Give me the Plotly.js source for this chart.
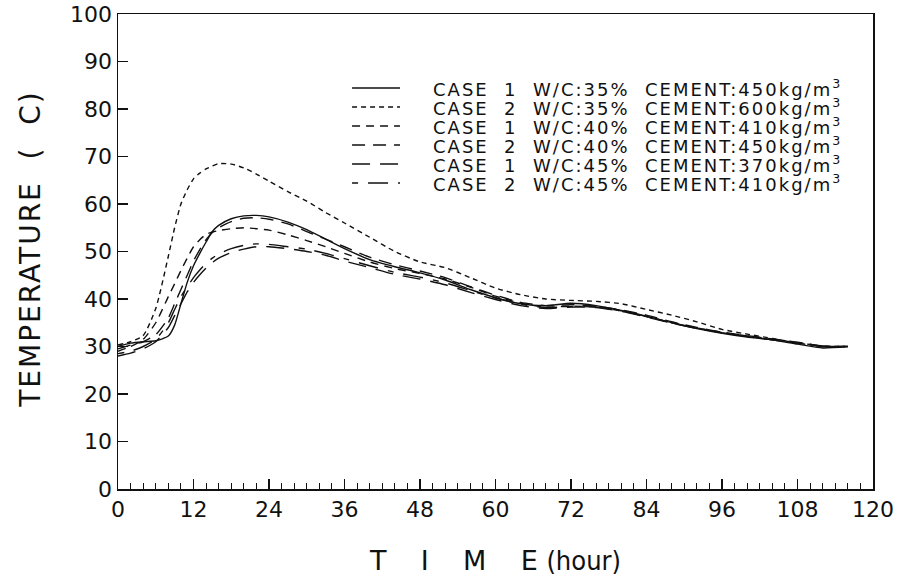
<!DOCTYPE html>
<html>
<head>
<meta charset="utf-8">
<script src="https://cdn.plot.ly/plotly-3.0.1.min.js"></script>
<style>
html,body{margin:0;padding:0;background:#fff;}
#chart{width:901px;height:585px;}
#chart .annotation-text{letter-spacing:2px;}
</style>
</head>
<body>
<div id="chart"></div>
<script>
// Time (hours)
const hours = [0,2,4,6,8,9,10,11,12,13,14,15,16,18,20,22,24,27,30,33,36,40,44,48,52,56,60,64,68,72,76,80,84,88,92,96,100,104,108,112,116];

// CASE 1 W/C:35% CEMENT:450
const c1w35 = [30,30.7,31,31.2,32.2,34.5,39,43.5,47,49.6,52,54.2,55.5,56.9,57.5,57.6,57.3,56.2,54.6,52.6,50.6,48.3,46.8,45.5,44,42,40.3,39,38.6,39.1,38.6,37.6,36.4,35,33.8,32.8,32,31.4,30.5,29.7,30];
// CASE 2 W/C:35% CEMENT:600
const c2w35 = [30.3,31,32.3,38,49,55,60,63,65.3,66.5,67.4,68,68.5,68.4,67.6,66.3,64.8,62.6,60.6,58.2,56,53,50,47.8,46.6,44.5,42.3,40.9,40,39.7,39.5,39,37.8,36.6,35.2,33.6,32.6,31.7,30.8,30.1,30];
// CASE 1 W/C:40% CEMENT:410
const c1w40 = [29,30,31.5,35,40.5,43.2,46,48.6,51,52.5,53.6,54.1,54.4,54.8,55,54.8,54.5,53.5,52.3,51,49.6,47.8,46.4,45.4,44.2,42.5,40.6,39.1,38.3,38.5,38.3,37.5,36.3,35,33.9,33,32.2,31.5,30.8,30.1,30];
// CASE 2 W/C:40% CEMENT:450
const c2w40 = [29.5,30.3,31,32.5,36,39,42,45,48,50.4,52.5,54,55,56.3,57,57.1,56.8,55.8,54.2,52.6,51,48.8,47.2,45.9,44.5,42.6,40.8,39.3,38.6,38.8,38.5,37.7,36.6,35.2,34,33,32.3,31.6,30.9,30.1,30];
// CASE 1 W/C:45% CEMENT:370
const c1w45 = [28,28.6,29.5,31,34,36.5,39,41.5,43.5,45.1,46.5,47.7,48.6,49.8,50.5,51,51,50.6,50,49.2,48,46.6,45.2,44.2,43,41.4,39.9,38.6,38,38.3,38.2,37.4,36.2,34.9,33.8,32.9,32.1,31.4,30.7,30,30];
// CASE 2 W/C:45% CEMENT:410
const c2w45 = [28.5,29,30,31.5,35,37.8,40.5,42.6,44.5,46.1,47.5,48.6,49.5,50.6,51.3,51.6,51.5,51,50.5,49.6,48.5,47,45.6,44.6,43.4,41.8,40.2,38.9,38.2,38.4,38.3,37.5,36.3,35,33.9,32.9,32.1,31.4,30.7,30,30];

const seriesNames = [
  "CASE\u00A0\u00A01\u00A0\u00A0W/C:35%\u00A0\u00A0CEMENT:450kg/m<sup>3</sup>",
  "CASE\u00A0\u00A02\u00A0\u00A0W/C:35%\u00A0\u00A0CEMENT:600kg/m<sup>3</sup>",
  "CASE\u00A0\u00A01\u00A0\u00A0W/C:40%\u00A0\u00A0CEMENT:410kg/m<sup>3</sup>",
  "CASE\u00A0\u00A02\u00A0\u00A0W/C:40%\u00A0\u00A0CEMENT:450kg/m<sup>3</sup>",
  "CASE\u00A0\u00A01\u00A0\u00A0W/C:45%\u00A0\u00A0CEMENT:370kg/m<sup>3</sup>",
  "CASE\u00A0\u00A02\u00A0\u00A0W/C:45%\u00A0\u00A0CEMENT:410kg/m<sup>3</sup>"
];
const seriesData = [c1w35, c2w35, c1w40, c2w40, c1w45, c2w45];
const dashes = ["solid", "5px,4px", "8px,6px", "13px,8px", "18px,10px", "6px,10px,20px,10px"];

const xTickVals = [0,12,24,36,48,60,72,84,96,108,120];
const xTickText = ["0","12","24","36","48","60","72","84","96","108","120"];

const yTitle = "TEMPERATURE\u00A0\u00A0(\u00A0\u00A0C)";
const xTitle = "T\u00A0\u00A0\u00A0\u00A0I\u00A0\u00A0\u00A0\u00A0M\u00A0\u00A0\u00A0\u00A0E\u00A0<span style=\"font-family:'Liberation Sans Narrow','DejaVu Sans Condensed',sans-serif\">(hour)</span>";

const ink = "#111";
const fontFam = "DejaVu Sans, Liberation Sans, sans-serif";

const traces = seriesData.map((ys, i) => ({
  x: hours, y: ys, type: "scatter", mode: "lines", name: seriesNames[i],
  line: {color: ink, width: 1.4, dash: dashes[i], shape: "spline", smoothing: 0.6}
}));

// hand-drawn style legend (samples + labels) in paper coordinates
const plotTop = 14, plotH = 475;            // px
const legRow0 = 88, legRowGap = 19;          // px
const legX0 = 0.31, legX1 = 0.3735, legTextX = 0.415;
const shapes = [], annotations = [];
seriesNames.forEach((nm, i) => {
  const yp = 1 - (legRow0 + i * legRowGap - plotTop) / plotH;
  shapes.push({type: "line", xref: "paper", yref: "paper", x0: legX0, x1: legX1, y0: yp, y1: yp,
    line: {color: ink, width: 1.4, dash: dashes[i]}});
  annotations.push({xref: "paper", yref: "paper", x: legTextX, y: yp, xanchor: "left", yanchor: "middle",
    align: "left", text: nm, showarrow: false, font: {family: fontFam, size: 18, color: ink}});
});
annotations.push({xref: "paper", yref: "paper", x: -0.117, y: 0.505, xanchor: "center", yanchor: "middle",
  text: yTitle, textangle: -90, showarrow: false, font: {family: fontFam, size: 28, color: ink}});

const layout = {
  width: 901, height: 585,
  margin: {l: 118, r: 28, t: 14, b: 96},
  paper_bgcolor: "#fff", plot_bgcolor: "#fff",
  font: {family: fontFam, color: ink},
  showlegend: false,
  shapes: shapes,
  annotations: annotations,
  xaxis: {
    range: [0, 120], tickmode: "array", tickvals: xTickVals, ticktext: xTickText,
    ticks: "inside", ticklen: 10, tickwidth: 1.2, tickcolor: ink,
    minor: {dtick: 2, ticks: "inside", ticklen: 6, tickwidth: 1, tickcolor: ink},
    showline: true, linecolor: ink, linewidth: 1.5, mirror: true,
    showgrid: false, zeroline: false,
    tickfont: {family: fontFam, size: 22, color: ink},
    title: {text: xTitle, font: {family: fontFam, size: 27, color: ink}, standoff: 30}
  },
  yaxis: {
    range: [0, 100], dtick: 10, tick0: 0,
    ticks: "inside", ticklen: 10, tickwidth: 1.2, tickcolor: ink,
    showline: true, linecolor: ink, linewidth: 1.5, mirror: true,
    showgrid: false, zeroline: false,
    tickfont: {family: fontFam, size: 22, color: ink}
  }
};

Plotly.newPlot("chart", traces, layout, {displayModeBar: false, staticPlot: true});
</script>
</body>
</html>
